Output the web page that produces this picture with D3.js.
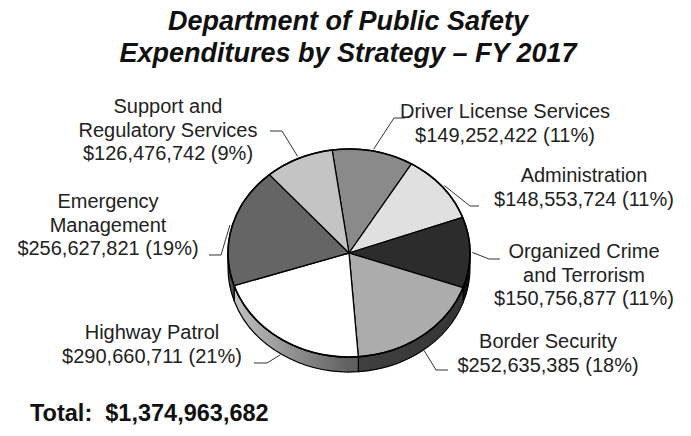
<!DOCTYPE html>
<html>
<head>
<meta charset="utf-8">
<script src="https://cdn.jsdelivr.net/npm/d3@7"></script>
<style>
  body { margin: 0; background: #fff; }
  text { font-family: "Liberation Sans", Arial, sans-serif; fill: #222; }
</style>
</head>
<body>
<script>
// slices in clockwise order, starting just left of 12 o'clock
var strategies = ["Driver License Services", "Administration", "Organized Crime and Terrorism",
                  "Border Security", "Highway Patrol", "Emergency Management", "Support and Regulatory Services"];
var amounts = [149252422, 148553724, 150756877, 252635385, 290660711, 256627821, 126476742];
var labelLines = [["Driver License Services"], ["Administration"], ["Organized Crime", "and Terrorism"],
                  ["Border Security"], ["Highway Patrol"], ["Emergency", "Management"],
                  ["Support and", "Regulatory Services"]];
var fills = ["#8a8a8a", "#e0e0e0", "#2c2c2c", "#acacac", "#ffffff", "#656565", "#c4c4c4"];

// label placement: text centre x, first baseline, elbow of leader, end of leader
var labelPos = [
  {x: 505, y: 118, elbow: [394, 118], end: [405, 118]},
  {x: 584, y: 182, elbow: [470, 206], end: [479, 206]},
  {x: 584, y: 258, elbow: [489, 259], end: [500, 259]},
  {x: 548, y: 348, elbow: [436, 370], end: [448, 370]},
  {x: 152, y: 339, elbow: [267, 363], end: [254, 363]},
  {x: 108, y: 208, elbow: [221, 255], end: [209, 255]},
  {x: 168, y: 113, elbow: [282, 131], end: [270, 131]}
];

var width = 691, height = 436;
var cx = 349, cy = 253, rx = 121, ry = 104, depth = 15;
var lineH = 23.5;

var total = d3.sum(amounts);
var fmtMoney = d3.format("$,");

var svg = d3.select("body").append("svg")
    .attr("width", width)
    .attr("height", height);

// title
var title = svg.append("text")
    .attr("text-anchor", "middle")
    .style("font-size", "27px")
    .style("font-weight", "bold")
    .style("font-style", "italic")
    .style("fill", "#111");
title.append("tspan").attr("x", 348).attr("y", 30).text("Department of Public Safety");
title.append("tspan").attr("x", 348).attr("y", 62).text("Expenditures by Strategy \u2013 FY 2017");

var start = -8 * Math.PI / 180;
var pie = d3.pie().sort(null).startAngle(start).endAngle(start + 2 * Math.PI);
var arcs = pie(amounts);

function pt(a, dy) {
  return [cx + rx * Math.sin(a), cy - ry * Math.cos(a) + (dy || 0)];
}

// side shading: lighter on the left, darker on the right
var defs = svg.append("defs");
arcs.forEach(function(d, i) {
  var c = d3.rgb(fills[i]);
  var g = defs.append("linearGradient")
      .attr("id", "side" + i)
      .attr("gradientUnits", "userSpaceOnUse")
      .attr("x1", cx - rx).attr("x2", cx + rx).attr("y1", 0).attr("y2", 0);
  [[0, 0.78], [0.5, 0.38], [1, 0.3]].forEach(function(s) {
    g.append("stop").attr("offset", s[0])
      .attr("stop-color", d3.rgb(c.r * s[1], c.g * s[1], c.b * s[1]).toString());
  });
});

// visible side walls (front half only)
arcs.forEach(function(d, i) {
  var s = Math.max(d.startAngle, Math.PI / 2), e = Math.min(d.endAngle, 3 * Math.PI / 2);
  if (e <= s) return;
  var p0 = pt(s), p1 = pt(e), p2 = pt(e, depth), p3 = pt(s, depth);
  svg.append("path")
      .attr("d", "M" + p0 + "A" + rx + "," + ry + " 0 0 1 " + p1 + "L" + p2 +
                 "A" + rx + "," + ry + " 0 0 0 " + p3 + "Z")
      .attr("fill", "url(#side" + i + ")")
      .attr("stroke", "#000")
      .attr("stroke-width", 1.2)
      .attr("stroke-linejoin", "round");
});

// top faces
arcs.forEach(function(d, i) {
  var p0 = pt(d.startAngle), p1 = pt(d.endAngle);
  var large = d.endAngle - d.startAngle > Math.PI ? 1 : 0;
  svg.append("path")
      .attr("d", "M" + cx + "," + cy + "L" + p0 + "A" + rx + "," + ry + " 0 " + large + " 1 " + p1 + "Z")
      .attr("fill", fills[i])
      .attr("stroke", "#000")
      .attr("stroke-width", 1.3)
      .attr("stroke-linejoin", "round");
});

svg.append("ellipse")
    .attr("cx", cx).attr("cy", cy).attr("rx", rx).attr("ry", ry)
    .attr("fill", "none").attr("stroke", "#000").attr("stroke-width", 1.6);

// leaders and labels
arcs.forEach(function(d, i) {
  var a = (d.startAngle + d.endAngle) / 2;
  var front = Math.cos(a) < -0.3;
  var rim = pt(a, front ? depth : 0);
  rim = [cx + (rim[0] - cx) * 1.02, rim[1] + (front ? 0 : -ry * Math.cos(a) * 0.02)];
  var L = labelPos[i];
  svg.append("polyline")
      .attr("points", [rim, L.elbow, L.end].join(" "))
      .attr("fill", "none")
      .attr("stroke", "#333")
      .attr("stroke-width", 1);

  var lines = labelLines[i].concat([fmtMoney(d.data) + " (" + Math.round(d.data / total * 100) + "%)"]);
  var t = svg.append("text")
      .attr("text-anchor", "middle")
      .style("font-size", "20px");
  lines.forEach(function(s, k) {
    t.append("tspan").attr("x", L.x).attr("y", L.y + k * lineH).text(s);
  });
});

svg.append("text")
    .attr("x", 30).attr("y", 421)
    .style("font-size", "23.5px")
    .style("font-weight", "bold")
    .style("white-space", "pre")
    .style("fill", "#111")
    .text("Total:  " + fmtMoney(total));
</script>
</body>
</html>
